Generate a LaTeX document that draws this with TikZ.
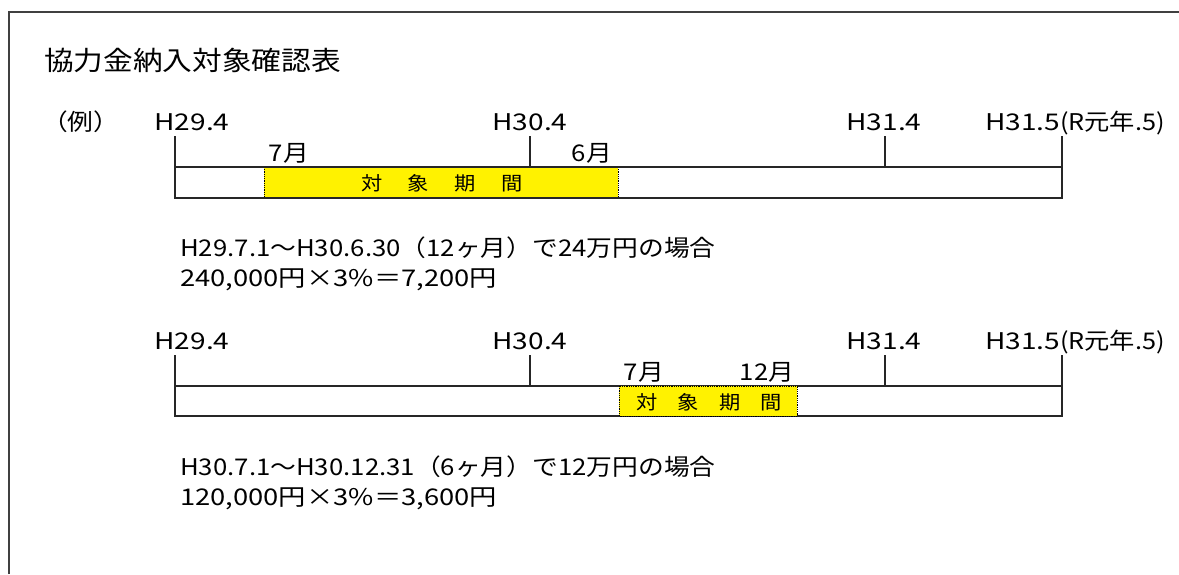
\documentclass[tikz,border=0pt]{standalone}
\usepackage{graphicx}
\usepackage{fontspec}
\setmainfont{Noto Sans CJK JP}[FakeStretch=1.12]
\newfontfamily\widefont{Noto Sans CJK JP}[FakeStretch=1.22]
\newfontfamily\midfont{Noto Sans CJK JP}[FakeStretch=1.19]
\begin{document}
\begin{tikzpicture}[x=1pt,y=-1pt,
  lbl/.style={inner sep=0pt,anchor=base,font=\widefont\fontsize{23}{26}\selectfont},
  lblw/.style={inner sep=0pt,anchor=base west,font=\widefont\fontsize{23}{26}\selectfont},
  txt/.style={inner sep=0pt,anchor=base west,font=\fontsize{23}{26}\selectfont},
  calc/.style={inner sep=0pt,anchor=base west,font=\midfont\fontsize{23}{26}\selectfont},
  mon/.style={inner sep=0pt,anchor=base,font=\fontsize{23}{26}\selectfont},
  bar/.style={line width=1.4pt,draw=black!85},
  tick/.style={line width=1.4pt,draw=black!85},
  hl/.style={fill=yellow},
  sep/.style={densely dotted,line width=0.8pt},
  per/.style={inner sep=0pt,anchor=base,font=\fontsize{19}{22}\selectfont}]
\useasboundingbox (0,0) rectangle (1179,574);
% frame (top and left only visible)
\draw[line width=1.5pt,draw=black!75] (9,574) -- (9,12) -- (1179,12);
\node[txt,font=\fontsize{26.5}{30}\selectfont] (title) at (44,70) {協力金納入対象確認表};
\node[txt] (rei) at (42,130) {（例）};
% ---------- timeline 1 ----------
\coordinate (a1) at (175,167); \coordinate (b1) at (1062,198);
\fill[hl] (264,167) rectangle (618,198);
\draw[sep] (264,167) -- (264,198);
\draw[sep] (618,167) -- (618,198);
\draw[bar] (a1) rectangle (b1);
\node[lbl] (l11) at (192,130) {H29.4};
\node[lbl] (l12) at (530,130) {H30.4};
\node[lbl] (l13) at (884,130) {H31.4};
\node[lblw] (l14) at (985,130) {H31.5\scalebox{0.9}[1]{(R元年.5)}};
\coordinate (t11) at (175,136); \coordinate (t12) at (530,136);
\coordinate (t13) at (885,136); \coordinate (t14) at (1062,136);
\draw[tick] (t11) -- (175,167);
\draw[tick] (t12) -- (530,167);
\draw[tick] (t13) -- (885,167);
\draw[tick] (t14) -- (1062,167);
\node[mon] (m11) at (289,161) {7月};
\node[mon] (m12) at (592,161) {6月};
\node[per] (k11) at (372,190) {対};
\node[per] (k12) at (418,190) {象};
\node[per] (k13) at (465,190) {期};
\node[per] (k14) at (512,190) {間};
\node[txt] (s11) at (180,256) {H29.7.1～H30.6.30（12ヶ月）で24万円の場合};
\node[calc] (s12) at (180,286) {240,000円×3\%＝7,200円};
% ---------- timeline 2 ----------
\coordinate (a2) at (175,386); \coordinate (b2) at (1062,416);
\draw[bar] (a2) rectangle (b2);
\fill[hl] (619,386) rectangle (797,416);
\draw[sep] (619,386) rectangle (797,416);
\node[lbl] (l21) at (192,349) {H29.4};
\node[lbl] (l22) at (530,349) {H30.4};
\node[lbl] (l23) at (884,349) {H31.4};
\node[lblw] (l24) at (985,349) {H31.5\scalebox{0.9}[1]{(R元年.5)}};
\coordinate (t21) at (175,355); \coordinate (t22) at (530,355);
\coordinate (t23) at (885,355); \coordinate (t24) at (1062,355);
\draw[tick] (t21) -- (175,386);
\draw[tick] (t22) -- (530,386);
\draw[tick] (t23) -- (885,386);
\draw[tick] (t24) -- (1062,386);
\node[mon] (m21) at (644,380) {7月};
\node[mon] (m22) at (767,380) {12月};
\node[per] (k21) at (647,409) {対};
\node[per] (k22) at (688,409) {象};
\node[per] (k23) at (730,409) {期};
\node[per] (k24) at (771,409) {間};
\node[txt] (s21) at (180,475) {H30.7.1～H30.12.31（6ヶ月）で12万円の場合};
\node[calc] (s22) at (180,505) {120,000円×3\%＝3,600円};
\end{tikzpicture}
\end{document}
